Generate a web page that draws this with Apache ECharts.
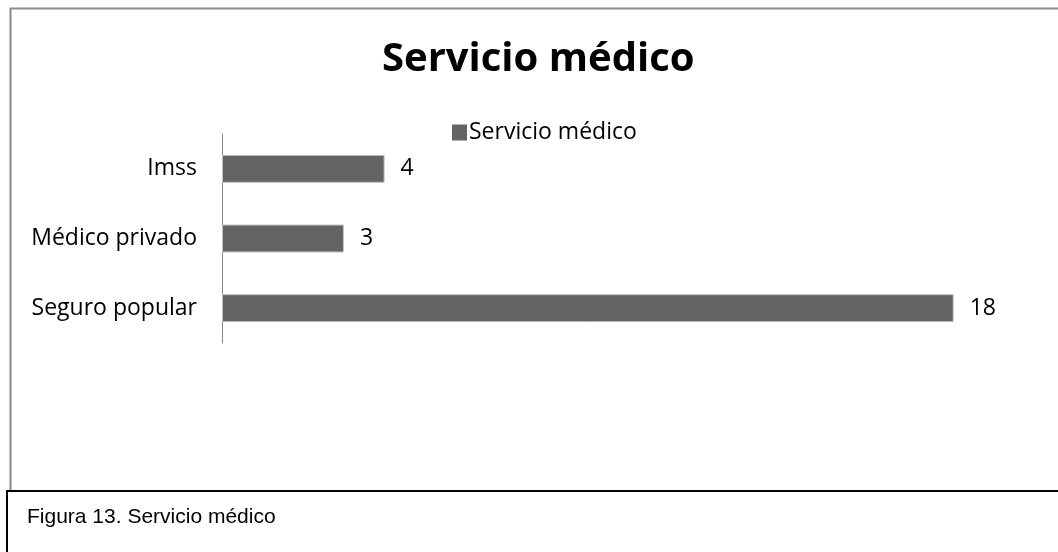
<!DOCTYPE html>
<html><head><meta charset="utf-8">
<script src="https://cdn.jsdelivr.net/npm/echarts@6/dist/echarts.min.js"></script>
<style>html,body{margin:0;padding:0;background:#fff}#c{width:1058px;height:552px}</style>
</head><body><div id="c"></div>
<script>
const categories = ['Imss', 'Médico privado', 'Seguro popular'];
const values = [4, 3, 18];
const seriesName = 'Servicio médico';
const titleText = 'Servicio médico';
const captionText = 'Figura 13. Servicio médico';

const FONT = '"Open Sans", sans-serif';
const chart = echarts.init(document.getElementById('c'), null, {renderer: 'canvas'});
chart.setOption({
  animation: false,
  backgroundColor: '#fff',
  title: {text: titleText, left: 377, top: 35,
    textStyle: {fontFamily: FONT, fontWeight: 'bold', fontSize: 40, color: '#000'}},
  legend: {data: [seriesName], left: 447, top: 116, itemWidth: 15, itemHeight: 16, itemGap: 4,
    icon: 'rect', itemStyle: {borderWidth: 0},
    textStyle: {fontFamily: FONT, fontSize: 23, color: '#000', padding: [0,0,0,-3]}},
  grid: {left: 222, right: 23, top: 134, bottom: 209, containLabel: false},
  xAxis: {type: 'value', min: 0, max: 20, show: false},
  yAxis: {type: 'category', data: categories, inverse: true,
    axisLine: {show: true, lineStyle: {color: '#888', width: 1}},
    axisTick: {show: false},
    axisLabel: {fontFamily: FONT, fontSize: 23, color: '#000', margin: 25}},
  series: [{
    name: seriesName, type: 'bar', data: values, barWidth: 28,
    itemStyle: {color: '#636363', borderColor: '#c4c4c4', borderWidth: 1},
    label: {show: true, position: 'right', distance: 16, fontFamily: FONT, fontSize: 23, color: '#000'}
  }],
  graphic: [
    {type: 'rect', z: -10, shape: {x: 10.5, y: 8.5, width: 1100, height: 500},
      style: {fill: 'none', stroke: '#8a8a8a', lineWidth: 2}},
    {type: 'rect', z: 10, shape: {x: 7, y: 491, width: 1100, height: 100},
      style: {fill: '#fff', stroke: '#000', lineWidth: 2}},
    {type: 'text', z: 11, left: 27, top: 507,
      style: {text: captionText, font: '21px "Liberation Sans", Arial, sans-serif', fill: '#000'}}
  ]
});
</script></body></html>
